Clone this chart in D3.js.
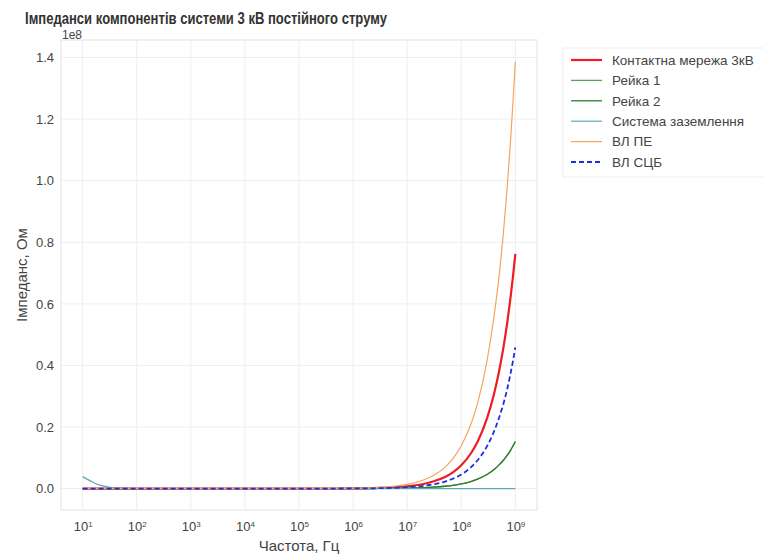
<!DOCTYPE html>
<html>
<head>
<meta charset="utf-8">
<script src="https://cdn.jsdelivr.net/npm/d3@7"></script>
<style>
  body { margin: 0; background: #fff; }
  text { font-family: "Liberation Sans", Arial, sans-serif; }
</style>
</head>
<body>
<div id="chart-area"></div>
<script>
// Frequency, Hz (x axis, log)
var freqs = [10, 15, 20, 30, 50, 100, 1e3, 1e4, 1e5, 1e6, 3e6, 1e7, 2e7, 3e7, 5e7, 7e7,
             1e8, 1.5e8, 2e8, 3e8, 4e8, 5e8, 6e8, 7e8, 8e8, 9e8, 1e9];

// Impedance, Ohm
var contactNet = [30, 30, 30, 31, 31, 32, 80, 760, 7600, 7.6e4, 2.3e5, 7.6e5, 1.5e6, 2.3e6, 3.8e6, 5.3e6,
                  7.6e6, 1.14e7, 1.52e7, 2.29e7, 3.05e7, 3.81e7, 4.57e7, 5.33e7, 6.1e7, 6.86e7, 7.62e7];
var rail1 = [5, 5, 5, 5, 5, 5, 16, 153, 1530, 1.5e4, 4.6e4, 1.5e5, 3.1e5, 4.6e5, 7.7e5, 1.07e6,
             1.53e6, 2.3e6, 3.1e6, 4.6e6, 6.1e6, 7.7e6, 9.2e6, 1.07e7, 1.22e7, 1.38e7, 1.53e7];
var rail2 = [5, 5, 5, 5, 5, 5, 16, 153, 1530, 1.5e4, 4.6e4, 1.5e5, 3.1e5, 4.6e5, 7.7e5, 1.07e6,
             1.53e6, 2.3e6, 3.1e6, 4.6e6, 6.1e6, 7.7e6, 9.2e6, 1.07e7, 1.22e7, 1.38e7, 1.53e7];
var grounding = [3.9e6, 2.2e6, 1.2e6, 5e5, 1.5e5, 3e4, 300, 30, 10, 10, 10, 10, 10, 10, 10, 10,
                 10, 10, 10, 10, 10, 10, 10, 10, 10, 10, 10];
var overheadPE = [40, 40, 40, 41, 41, 42, 140, 1390, 1.39e4, 1.4e5, 4.2e5, 1.39e6, 2.8e6, 4.2e6, 6.9e6, 9.7e6,
                  1.39e7, 2.08e7, 2.77e7, 4.16e7, 5.55e7, 6.9e7, 8.3e7, 9.7e7, 1.11e8, 1.25e8, 1.387e8];
var overheadSCB = [20, 20, 20, 20, 21, 21, 50, 460, 4600, 4.6e4, 1.4e5, 4.6e5, 9.2e5, 1.38e6, 2.3e6, 3.2e6,
                   4.6e6, 6.9e6, 9.2e6, 1.38e7, 1.84e7, 2.3e7, 2.75e7, 3.2e7, 3.67e7, 4.13e7, 4.59e7];

var seriesNames = ["Контактна мережа 3кВ", "Рейка 1", "Рейка 2", "Система заземлення", "ВЛ ПЕ", "ВЛ СЦБ"];
var seriesValues = [contactNet, rail1, rail2, grounding, overheadPE, overheadSCB];
var seriesColors = ["#ee1c25", "#5aa05a", "#2e7d32", "#5fa9b5", "#f6a45c", "#1f2de0"];
var seriesWidths = [2.2, 1.3, 1.3, 1.2, 1.2, 1.8];
var seriesDash = [null, null, null, null, null, "5,3"];

var xTicks = [1e1, 1e2, 1e3, 1e4, 1e5, 1e6, 1e7, 1e8, 1e9];
var yTicks = [0, 0.2e8, 0.4e8, 0.6e8, 0.8e8, 1.0e8, 1.2e8, 1.4e8];

var margin = {top: 40, left: 61, bottom: 46, right: 226};
var width = 763 - margin.left - margin.right,
    height = 556 - margin.top - margin.bottom;

var svg = d3.select("#chart-area")
    .append("svg")
        .attr("width", 763)
        .attr("height", 556);

var g = svg.append("g")
    .attr("transform", "translate(" + margin.left + "," + margin.top + ")");

// Scales
var x = d3.scaleLog()
    .domain([Math.pow(10, 0.6), Math.pow(10, 9.4)])
    .range([0, width]);

var y = d3.scaleLinear()
    .domain([-0.0695e8, 1.457e8])
    .range([height, 0]);

// Grid
g.append("g")
    .selectAll("line")
    .data(xTicks)
    .enter().append("line")
        .attr("x1", d => x(d)).attr("x2", d => x(d))
        .attr("y1", 0).attr("y2", height)
        .attr("stroke", "#eeeeee");

g.append("g")
    .selectAll("line")
    .data(yTicks)
    .enter().append("line")
        .attr("x1", 0).attr("x2", width)
        .attr("y1", d => y(d)).attr("y2", d => y(d))
        .attr("stroke", "#eeeeee");

// Frame
g.append("rect")
    .attr("width", width)
    .attr("height", height)
    .attr("fill", "none")
    .attr("stroke", "#e2e2e2");

// Axes
var yAxis = d3.axisLeft(y)
    .tickValues(yTicks)
    .tickSize(0)
    .tickPadding(7)
    .tickFormat(d => (d / 1e8).toFixed(1));
var yG = g.append("g").call(yAxis);
yG.select(".domain").remove();
yG.selectAll("text").attr("font-size", "13px").attr("fill", "#444");

var xAxis = d3.axisBottom(x)
    .tickValues(xTicks)
    .tickSize(0)
    .tickPadding(8)
    .tickFormat("");
var xG = g.append("g")
    .attr("transform", "translate(0," + height + ")")
    .call(xAxis);
xG.select(".domain").remove();
xG.selectAll(".tick").each(function(d) {
    var t = d3.select(this).select("text")
        .attr("font-size", "13px")
        .attr("fill", "#444")
        .attr("dy", "1em");
    t.append("tspan").text("10");
    t.append("tspan")
        .attr("dy", "-0.55em")
        .attr("font-size", "8px")
        .text(Math.round(Math.log10(d)));
});

// Lines
var line = d3.line()
    .x((d, i) => x(freqs[i]))
    .y(d => y(d))
    .curve(d3.curveMonotoneX);

g.append("g")
    .selectAll("path")
    .data(seriesValues)
    .enter().append("path")
        .attr("d", d => line(d))
        .attr("fill", "none")
        .attr("stroke", (d, i) => seriesColors[i])
        .attr("stroke-width", (d, i) => seriesWidths[i])
        .attr("stroke-dasharray", (d, i) => seriesDash[i]);

// Title and labels
svg.append("text")
    .attr("x", 25)
    .attr("y", 24)
    .attr("font-size", "17px")
    .attr("font-weight", "bold")
    .attr("fill", "#333")
    .attr("textLength", 362)
    .attr("lengthAdjust", "spacingAndGlyphs")
    .text("Імпеданси компонентів системи 3 кВ постійного струму");

svg.append("text")
    .attr("x", 62)
    .attr("y", 39)
    .attr("font-size", "12px")
    .attr("fill", "#444")
    .text("1e8");

svg.append("text")
    .attr("x", margin.left + width / 2)
    .attr("y", 551)
    .attr("text-anchor", "middle")
    .attr("font-size", "15px")
    .attr("fill", "#444")
    .text("Частота, Гц");

svg.append("text")
    .attr("transform", "translate(27," + (margin.top + height / 2) + ") rotate(-90)")
    .attr("text-anchor", "middle")
    .attr("font-size", "15px")
    .attr("fill", "#444")
    .text("Імпеданс, Ом");

// Legend
var legend = svg.append("g").attr("transform", "translate(563,48)");
legend.append("rect")
    .attr("width", 205)
    .attr("height", 129)
    .attr("fill", "#fff")
    .attr("stroke", "#eeeeee");

var items = legend.selectAll(".item")
    .data(seriesNames)
    .enter().append("g")
        .attr("transform", (d, i) => "translate(0," + (12 + i * 20.4) + ")");
items.append("line")
    .attr("x1", 8).attr("x2", 39)
    .attr("stroke", (d, i) => seriesColors[i])
    .attr("stroke-width", (d, i) => seriesWidths[i])
    .attr("stroke-dasharray", (d, i) => seriesDash[i]);
items.append("text")
    .attr("x", 49)
    .attr("dy", "0.35em")
    .attr("font-size", "13.5px")
    .attr("fill", "#444")
    .text(d => d);
</script>
</body>
</html>
